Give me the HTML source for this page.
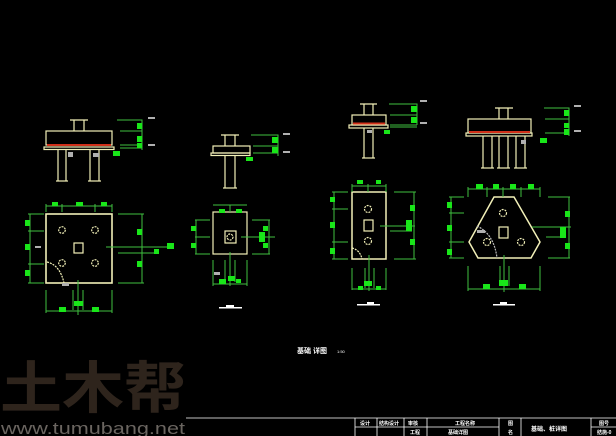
<!DOCTYPE html>
<html><head><meta charset="utf-8"><style>
html,body{margin:0;padding:0;background:#000;width:616px;height:436px;overflow:hidden}
svg{display:block}
text{font-family:"Liberation Sans","Noto Sans CJK SC",sans-serif}
</style></head><body>
<svg width="616" height="436" viewBox="0 0 616 436" xmlns="http://www.w3.org/2000/svg">
<rect width="616" height="436" fill="#000"/>
<!-- watermark -->
<text x="0" y="408" font-size="56" font-weight="bold" fill="#2e241c" textLength="186" lengthAdjust="spacingAndGlyphs">土木帮</text>
<text x="1" y="434" font-size="17" fill="#6a6560" textLength="184" lengthAdjust="spacingAndGlyphs">www.tumubang.net</text>

<g fill="none" stroke="#f2f0b8" stroke-width="1.2">
<!-- fig1 section -->
<rect x="46" y="131" width="66" height="14"/>
<rect x="44" y="147" width="70" height="2.5"/>
<line x1="74" y1="120" x2="74" y2="131"/><line x1="84" y1="120" x2="84" y2="131"/><line x1="70" y1="120" x2="88" y2="120"/>
<line x1="58" y1="149" x2="58" y2="181"/><line x1="66" y1="149" x2="66" y2="181"/>
<line x1="90" y1="149" x2="90" y2="181"/><line x1="99" y1="149" x2="99" y2="181"/>
<line x1="56" y1="181" x2="68" y2="181"/><line x1="88" y1="181" x2="101" y2="181"/>
<!-- fig1 plan -->
<rect x="46" y="214" width="66" height="69" stroke-width="1.6"/>
<circle cx="62" cy="230" r="3.3" stroke-dasharray="2 1"/><circle cx="95" cy="230" r="3.3" stroke-dasharray="2 1"/>
<circle cx="62" cy="263" r="3.3" stroke-dasharray="2 1"/><circle cx="95" cy="263" r="3.3" stroke-dasharray="2 1"/>
<rect x="74" y="243" width="9" height="10"/>
<path d="M47 262 Q60 265 64 283" stroke-dasharray="2 1"/>
<!-- fig2 section -->
<rect x="213" y="146" width="37" height="7"/>
<rect x="211" y="153" width="39" height="2.5"/>
<line x1="225" y1="135" x2="225" y2="146"/><line x1="235" y1="135" x2="235" y2="146"/><line x1="221" y1="135" x2="239" y2="135"/>
<line x1="225" y1="155" x2="225" y2="188"/><line x1="235" y1="155" x2="235" y2="188"/><line x1="223" y1="188" x2="237" y2="188"/>
<!-- fig2 plan -->
<rect x="213" y="212" width="34" height="42"/>
<rect x="225" y="231" width="11" height="12"/>
<circle cx="230" cy="237" r="3" stroke-dasharray="2 1"/>
<!-- fig3 section -->
<rect x="352" y="115" width="34" height="10"/>
<rect x="349" y="125" width="39" height="3"/>
<line x1="364" y1="104" x2="364" y2="115"/><line x1="373" y1="104" x2="373" y2="115"/><line x1="360" y1="104" x2="377" y2="104"/>
<line x1="364" y1="128" x2="364" y2="158"/><line x1="373" y1="128" x2="373" y2="158"/><line x1="362" y1="158" x2="375" y2="158"/>
<!-- fig3 plan -->
<rect x="352" y="192" width="34" height="67" stroke-width="1.5"/>
<circle cx="368" cy="209" r="3.5" stroke-dasharray="2 1"/><circle cx="368" cy="241" r="3.5" stroke-dasharray="2 1"/>
<rect x="364" y="220" width="9" height="11"/>
<path d="M352 248 Q360 250 362 259" stroke-dasharray="2 1"/>
<!-- fig4 section -->
<rect x="468" y="119" width="63" height="14"/>
<rect x="466" y="133" width="66" height="3"/>
<line x1="499" y1="108" x2="499" y2="119"/><line x1="508" y1="108" x2="508" y2="119"/><line x1="495" y1="108" x2="513" y2="108"/>
<line x1="483" y1="136" x2="483" y2="168"/><line x1="492" y1="136" x2="492" y2="168"/>
<line x1="499" y1="136" x2="499" y2="168"/><line x1="508" y1="136" x2="508" y2="168"/>
<line x1="516" y1="136" x2="516" y2="168"/><line x1="525" y1="136" x2="525" y2="168"/>
<line x1="481" y1="168" x2="494" y2="168"/><line x1="497" y1="168" x2="510" y2="168"/><line x1="514" y1="168" x2="527" y2="168"/>
<!-- fig4 plan -->
<polygon points="494,197 514,197 540,242 531,258 478,258 469,242" stroke-width="1.5"/>
<circle cx="503" cy="213" r="3.5" stroke-dasharray="2 1"/><circle cx="487" cy="242" r="3.5" stroke-dasharray="2 1"/><circle cx="521" cy="242" r="3.5" stroke-dasharray="2 1"/>
<rect x="499" y="227" width="9" height="11"/>
<path d="M477 226 Q494 234 497 258" stroke="#bbb" stroke-dasharray="2 1"/>
</g>
<!-- red lines -->
<g stroke="#d0301a" stroke-width="2">
<line x1="47" y1="145" x2="111" y2="145"/>
<line x1="353" y1="123.5" x2="385" y2="123.5"/>
<line x1="469" y1="132" x2="530" y2="132"/>
</g>

<!-- green dimension lines -->
<g stroke="#3fbf3f" stroke-width="1" fill="none">
<!-- fig1 section dims -->
<path d="M117 120 H142 V150 M120 131 H142 M120 145 H142 M120 148 H142"/>
<!-- fig1 plan dims -->
<path d="M46 206 H112 M46 204 V212 M62 204 V212 M95 204 V212 M112 204 V212"/>
<path d="M30 214 V283 M28 214 H44 M28 231 H44 M28 264 H44 M28 283 H44"/>
<path d="M142 214 V283 M118 214 H144 M118 283 H144 M106 247 H172 M118 253 H158"/>
<path d="M46 311 H112 M46 290 V313 M112 290 V313 M78 280 V315 M73 290 V310 M83 290 V310"/>
<!-- fig2 -->
<path d="M251 135 H278 V156 M253 146 H278 M253 153 H278"/>
<path d="M213 205 H247 M230 205 V212"/>
<path d="M196 220 V254 M195 220 H210 M195 237 H210 M195 254 H210"/>
<path d="M269 220 V254 M252 220 H270 M252 254 H270 M241 237 H275"/>
<path d="M213 284 H247 M213 260 V286 M247 260 V286 M230 252 V286 M225 260 V282 M235 260 V282"/>
<!-- fig3 -->
<path d="M389 104 H417 V125 M390 115 H417 M390 125 H417 M390 127 H417"/>
<path d="M352 186 H386 M352 184 V192 M368 184 V192 M386 184 V192"/>
<path d="M334 192 V259 M332 192 H348 M332 209 H348 M332 242 H348 M332 259 H348"/>
<path d="M414 192 V259 M394 192 H416 M394 259 H416 M380 226 H415 M390 231 H412"/>
<path d="M352 289 H386 M352 268 V290 M386 268 V290 M369 255 V291 M365 268 V288 M374 268 V288"/>
<!-- fig4 -->
<path d="M544 108 H569 V136 M545 119 H569 M545 133 H569"/>
<path d="M468 189 H540 M468 187 V197 M487 187 V197 M503 187 V197 M521 187 V197 M540 187 V197"/>
<path d="M451 197 V258 M449 197 H464 M449 213 H464 M449 242 H464 M449 258 H464"/>
<path d="M569 197 V258 M548 197 H570 M548 258 H570 M532 227 H571 M546 237 H566"/>
<path d="M468 289 H540 M468 266 V291 M540 266 V291 M504 255 V292 M500 266 V286 M509 266 V286"/>
</g>
<!-- green blobs -->
<g fill="#19e619">
<rect x="137" y="123" width="5" height="6"/><rect x="137" y="136" width="5" height="6"/><rect x="137" y="143" width="5" height="5"/><rect x="113" y="151" width="7" height="5"/>
<rect x="52" y="202" width="6" height="4"/><rect x="76" y="202" width="7" height="4"/><rect x="101" y="202" width="6" height="4"/>
<rect x="25" y="220" width="5" height="6"/><rect x="25" y="244" width="5" height="6"/><rect x="25" y="270" width="5" height="6"/>
<rect x="137" y="229" width="5" height="6"/><rect x="137" y="261" width="5" height="6"/>
<rect x="167" y="243" width="7" height="6"/><rect x="154" y="249" width="5" height="5"/>
<rect x="74" y="301" width="9" height="5"/><rect x="59" y="307" width="7" height="5"/><rect x="92" y="307" width="7" height="5"/>
<rect x="272" y="137" width="6" height="6"/><rect x="272" y="147" width="6" height="6"/><rect x="246" y="157" width="7" height="4"/>
<rect x="219" y="209" width="6" height="4"/><rect x="236" y="209" width="6" height="4"/>
<rect x="191" y="226" width="5" height="5"/><rect x="191" y="243" width="5" height="5"/>
<rect x="263" y="226" width="5" height="5"/><rect x="259" y="232" width="6" height="10"/><rect x="263" y="243" width="5" height="5"/>
<rect x="219" y="279" width="7" height="5"/><rect x="228" y="276" width="7" height="5"/><rect x="236" y="279" width="5" height="4"/>
<rect x="411" y="106" width="6" height="6"/><rect x="411" y="117" width="6" height="6"/><rect x="384" y="130" width="6" height="4"/>
<rect x="357" y="180" width="6" height="4"/><rect x="376" y="180" width="5" height="4"/>
<rect x="330" y="197" width="5" height="5"/><rect x="330" y="222" width="5" height="6"/><rect x="330" y="248" width="5" height="6"/>
<rect x="410" y="205" width="5" height="6"/><rect x="406" y="220" width="6" height="11"/><rect x="410" y="239" width="5" height="6"/>
<rect x="364" y="281" width="8" height="5"/><rect x="358" y="286" width="5" height="4"/><rect x="376" y="286" width="5" height="4"/>
<rect x="564" y="110" width="5" height="6"/><rect x="564" y="123" width="5" height="5"/><rect x="564" y="129" width="5" height="6"/><rect x="540" y="138" width="7" height="5"/>
<rect x="476" y="184" width="7" height="5"/><rect x="493" y="184" width="6" height="5"/><rect x="510" y="184" width="6" height="5"/><rect x="528" y="184" width="6" height="5"/>
<rect x="447" y="202" width="5" height="6"/><rect x="447" y="225" width="5" height="6"/><rect x="447" y="249" width="5" height="6"/>
<rect x="565" y="211" width="5" height="6"/><rect x="560" y="227" width="6" height="11"/><rect x="565" y="243" width="5" height="6"/>
<rect x="499" y="280" width="9" height="6"/><rect x="483" y="284" width="7" height="5"/><rect x="519" y="284" width="7" height="5"/>
</g>
<!-- grey small text blobs -->
<g fill="#b0b0b0">
<rect x="148" y="117" width="7" height="2"/><rect x="148" y="144" width="7" height="2"/><rect x="68" y="152" width="5" height="5"/><rect x="93" y="153" width="6" height="4"/><rect x="35" y="246" width="6" height="2"/><rect x="62" y="283" width="7" height="3"/>
<rect x="283" y="133" width="7" height="2"/><rect x="283" y="151" width="7" height="2"/><rect x="214" y="272" width="6" height="3"/>
<rect x="420" y="100" width="7" height="2"/><rect x="420" y="122" width="7" height="2"/><rect x="367" y="130" width="5" height="3"/>
<rect x="574" y="105" width="7" height="2"/><rect x="574" y="130" width="7" height="2"/><rect x="521" y="140" width="5" height="4"/><rect x="477" y="230" width="8" height="3"/>
</g>
<!-- figure titles -->
<g fill="#fff">
<rect x="219" y="307" width="23" height="1.5"/><rect x="226" y="305" width="8" height="2"/>
<rect x="357" y="304" width="23" height="1.5"/><rect x="367" y="302" width="7" height="2"/>
<rect x="493" y="304" width="22" height="1.5"/><rect x="500" y="302" width="7" height="2"/>
</g>
<text x="297" y="353" font-size="7" font-weight="bold" fill="#fff">基础 详图</text>
<text x="337" y="353" font-size="4" fill="#fff">1:50</text>
<!-- title block -->
<g stroke="#fff" stroke-width="0.8" fill="none">
<line x1="186" y1="418" x2="616" y2="418"/>
<line x1="355" y1="427" x2="499" y2="427"/><line x1="591" y1="427" x2="616" y2="427"/>
<line x1="355" y1="418" x2="355" y2="436"/><line x1="377" y1="418" x2="377" y2="436"/><line x1="404" y1="418" x2="404" y2="436"/><line x1="427" y1="418" x2="427" y2="436"/><line x1="499" y1="418" x2="499" y2="436"/><line x1="521" y1="418" x2="521" y2="436"/><line x1="591" y1="418" x2="591" y2="436"/>
</g>
<g fill="#fff" font-size="5" font-weight="bold">
<text x="360" y="425">设计</text><text x="379" y="425">结构设计</text><text x="408" y="425">审核</text><text x="455" y="425">工程名称</text><text x="508" y="425">图</text>
<text x="410" y="434">工程</text><text x="448" y="434">基础详图</text><text x="508" y="434">名</text>
<text x="531" y="431" font-size="6">基础、桩详图</text><text x="599" y="425">图号</text><text x="597" y="434">结施-0</text>
</g>
</svg>
</body></html>
